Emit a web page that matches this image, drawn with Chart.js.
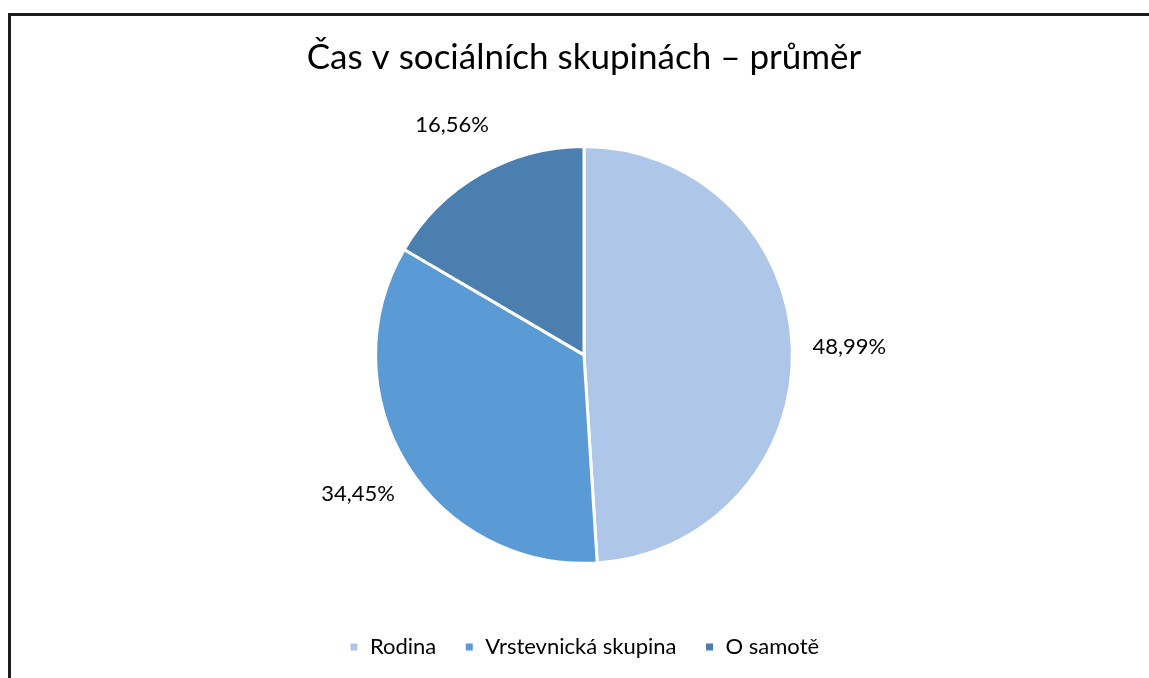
<!DOCTYPE html>
<html>
<head>
<meta charset="utf-8">
<script src="https://cdn.jsdelivr.net/npm/chart.js@4.4.0/dist/chart.umd.min.js"></script>
<style>
  html, body { margin: 0; padding: 0; background: #fff; overflow: hidden; }
  #frame {
    position: absolute; left: 8px; top: 13px; width: 1200px; height: 700px;
    border-top: 3px solid #1c1c1c; border-left: 3px solid #1c1c1c;
  }
  #wrap { position: absolute; left: 0; top: 0; width: 1149px; height: 678px; }
</style>
</head>
<body>
<div id="frame"></div>
<div id="wrap"><canvas id="pie"></canvas></div>
<script>
const labels = ['Rodina', 'Vrstevnická skupina', 'O samotě'];
const shares = [48.99, 34.45, 16.56];
const colors = ['#aec6e7', '#5b9bd5', '#4a7fb0'];
const titleText = 'Čas v sociálních skupinách – průměr';

const FONT = 'Lato, "Open Sans", sans-serif';

// percentage labels outside each slice
const outsideLabels = {
  id: 'outsideLabels',
  afterDatasetsDraw(chart) {
    const ctx = chart.ctx;
    const arcs = chart.getDatasetMeta(0).data;
    ctx.save();
    ctx.font = '22px ' + FONT;
    ctx.fillStyle = '#000';
    ctx.textAlign = 'center';
    ctx.textBaseline = 'middle';
    arcs.forEach((arc, i) => {
      const mid = (arc.startAngle + arc.endAngle) / 2;
      const r = arc.outerRadius + 57;
      const x = arc.x + Math.cos(mid) * r;
      const y = arc.y + Math.sin(mid) * r;
      ctx.fillText(shares[i].toFixed(2).replace('.', ',') + '%', x, y);
    });
    ctx.restore();
  }
};

new Chart(document.getElementById('pie'), {
  type: 'pie',
  data: {
    labels,
    datasets: [{
      data: shares,
      backgroundColor: colors,
      borderColor: '#fff',
      borderWidth: 3
    }]
  },
  options: {
    responsive: true,
    maintainAspectRatio: false,
    animation: false,
    layout: { padding: { left: 19, right: 0, top: 0, bottom: 10 } },
    plugins: {
      title: {
        display: true,
        text: titleText,
        color: '#000',
        font: { family: FONT, size: 35, weight: 'normal' },
        padding: { top: 37, bottom: 66 }
      },
      legend: {
        position: 'bottom',
        // empty legend title only used as spacing above the items
        title: { display: true, text: ' ', font: { size: 1 }, padding: { top: 42, bottom: 0 } },
        labels: {
          color: '#000',
          font: { family: FONT, size: 22 },
          boxWidth: 10,
          boxHeight: 10,
          padding: 28
        }
      },
      tooltip: { enabled: false }
    }
  },
  plugins: [outsideLabels]
});
</script>
</body>
</html>
